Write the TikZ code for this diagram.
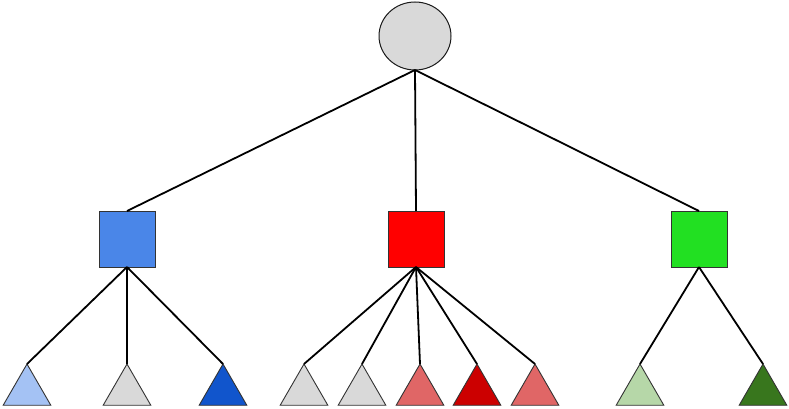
\documentclass[tikz,border=0pt]{standalone}
\usetikzlibrary{shapes.geometric}
\definecolor{rootgray}{HTML}{D9D9D9}
\definecolor{blueA}{HTML}{4A86E8}
\definecolor{redA}{HTML}{FF0000}
\definecolor{greenA}{HTML}{22E022}
\definecolor{lightblue}{HTML}{A4C2F4}
\definecolor{darkblue}{HTML}{1155CC}
\definecolor{lightred}{HTML}{E06666}
\definecolor{darkred}{HTML}{CC0000}
\definecolor{lightgreen}{HTML}{B6D7A8}
\definecolor{darkgreen}{HTML}{38761D}
\begin{document}
\begin{tikzpicture}
  [x=1pt,y=-1pt,
   top/.style={ellipse,draw=black!90,line width=1pt,fill=rootgray,minimum width=72pt,minimum height=68pt,inner sep=0pt,outer sep=0pt},
   branch/.style={rectangle,draw=black!80,line width=0.9pt,minimum size=56pt,inner sep=0pt,outer sep=0pt},
   leaf/.style={regular polygon,regular polygon sides=3,draw=black!80,line width=0.9pt,minimum size=55pt,inner sep=0pt,outer sep=0pt},
   edge/.style={line width=1.8pt,black}]
  \useasboundingbox (0,0) rectangle (789,409);
  \node[top] (root) at (415,36) {};
  \node[branch,fill=blueA] (blue) at (127,239) {};
  \node[branch,fill=redA] (red) at (416,239) {};
  \node[branch,fill=greenA] (green) at (699,239) {};
  \node[leaf,fill=lightblue] (b1) at (27,391.5) {};
  \node[leaf,fill=rootgray] (b2) at (127,391.5) {};
  \node[leaf,fill=darkblue] (b3) at (223,391.5) {};
  \node[leaf,fill=rootgray] (r1) at (304,391.5) {};
  \node[leaf,fill=rootgray] (r2) at (362,391.5) {};
  \node[leaf,fill=lightred] (r3) at (420,391.5) {};
  \node[leaf,fill=darkred] (r4) at (477,391.5) {};
  \node[leaf,fill=lightred] (r5) at (535,391.5) {};
  \node[leaf,fill=lightgreen] (g1) at (640,391.5) {};
  \node[leaf,fill=darkgreen] (g2) at (763,391.5) {};
  \draw [edge] (root.south) -- (blue.north);
  \draw [edge] (root.south) -- (red.north);
  \draw [edge] (root.south) -- (green.north);
  \draw [edge] (blue.south) -- (b1.corner 1);
  \draw [edge] (blue.south) -- (b2.corner 1);
  \draw [edge] (blue.south) -- (b3.corner 1);
  \draw [edge] (red.south) -- (r1.corner 1);
  \draw [edge] (red.south) -- (r2.corner 1);
  \draw [edge] (red.south) -- (r3.corner 1);
  \draw [edge] (red.south) -- (r4.corner 1);
  \draw [edge] (red.south) -- (r5.corner 1);
  \draw [edge] (green.south) -- (g1.corner 1);
  \draw [edge] (green.south) -- (g2.corner 1);
\end{tikzpicture}
\end{document}
